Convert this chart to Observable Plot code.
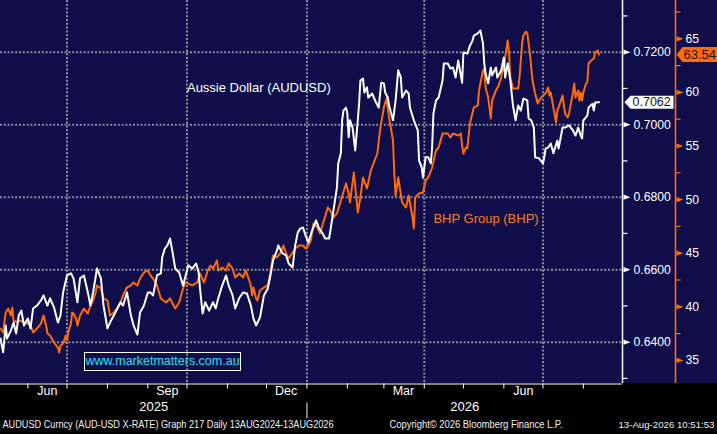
<!DOCTYPE html>
<html><head><meta charset="utf-8">
<script src="https://cdn.jsdelivr.net/npm/d3@7"></script>
<script src="https://cdn.jsdelivr.net/npm/@observablehq/plot@0.6"></script>
<style>
html,body{margin:0;padding:0;background:#000;overflow:hidden;}
#chart{position:relative;width:717px;height:434px;background:#000;overflow:hidden;font-family:"Liberation Sans",Arial,sans-serif;}
#bg{position:absolute;left:0;top:0;width:717px;height:383px;background:#0f0d4a;}
#chart svg{position:absolute;left:0;top:0;}
#wm{position:absolute;left:84px;top:352px;width:155px;height:17px;border:1px solid #fff;color:#22e2f2;font-size:12.5px;line-height:17px;text-align:center;white-space:nowrap;}
</style></head><body>
<div id="chart"><div id="bg"></div><div id="wm">www.marketmatters.com.au</div></div>
<script>
// ---------------- DATA ----------------
const audDates = ["2025-05-11","2025-05-13","2025-05-15","2025-05-16","2025-05-19","2025-05-21","2025-05-23","2025-05-25","2025-05-27","2025-05-29",
"2025-06-01","2025-06-03","2025-06-05","2025-06-08","2025-06-11","2025-06-13","2025-06-16","2025-06-18","2025-06-21","2025-06-24","2025-06-26","2025-06-28",
"2025-07-01","2025-07-04","2025-07-06","2025-07-09","2025-07-11","2025-07-14","2025-07-17","2025-07-19","2025-07-21","2025-07-24","2025-07-27","2025-07-29",
"2025-08-01","2025-08-03","2025-08-06","2025-08-11","2025-08-13","2025-08-16","2025-08-19","2025-08-21","2025-08-24","2025-08-26","2025-08-29",
"2025-09-01","2025-09-03","2025-09-05","2025-09-08","2025-09-11","2025-09-12","2025-09-14","2025-09-16","2025-09-18","2025-09-20","2025-09-22","2025-09-25","2025-09-28","2025-09-30",
"2025-10-02","2025-10-05","2025-10-08","2025-10-10","2025-10-11","2025-10-13","2025-10-15","2025-10-18","2025-10-21","2025-10-23","2025-10-25","2025-10-28","2025-10-31",
"2025-11-02","2025-11-05","2025-11-07","2025-11-10","2025-11-13","2025-11-16","2025-11-19","2025-11-21","2025-11-23","2025-11-26","2025-11-29",
"2025-12-02","2025-12-04","2025-12-06","2025-12-09","2025-12-10","2025-12-13","2025-12-16","2025-12-18","2025-12-21","2025-12-23","2025-12-25","2025-12-27","2025-12-29","2025-12-31",
"2026-01-02","2026-01-05","2026-01-08","2026-01-10","2026-01-13","2026-01-15","2026-01-18","2026-01-19","2026-01-21","2026-01-24","2026-01-25","2026-01-27","2026-01-28","2026-01-29","2026-01-31",
"2026-02-01","2026-02-02","2026-02-03","2026-02-05","2026-02-07","2026-02-09","2026-02-10","2026-02-11","2026-02-13","2026-02-14","2026-02-16","2026-02-17","2026-02-20","2026-02-23","2026-02-25","2026-02-27",
"2026-03-01","2026-03-02","2026-03-04","2026-03-05","2026-03-08","2026-03-10","2026-03-12","2026-03-14","2026-03-15","2026-03-18","2026-03-20","2026-03-21","2026-03-24","2026-03-27","2026-03-28","2026-03-30","2026-03-31",
"2026-04-02","2026-04-04","2026-04-06","2026-04-07","2026-04-08","2026-04-10","2026-04-12","2026-04-15","2026-04-16","2026-04-19","2026-04-21","2026-04-23","2026-04-25","2026-04-27","2026-04-30",
"2026-05-01","2026-05-04","2026-05-06","2026-05-08","2026-05-09","2026-05-12","2026-05-14","2026-05-16","2026-05-17","2026-05-18","2026-05-20","2026-05-22","2026-05-23","2026-05-26","2026-05-27","2026-05-30",
"2026-06-01","2026-06-02","2026-06-04","2026-06-06","2026-06-08","2026-06-10","2026-06-12","2026-06-14","2026-06-16","2026-06-19","2026-06-20","2026-06-22","2026-06-24","2026-06-25","2026-06-28",
"2026-07-01","2026-07-02","2026-07-03","2026-07-05","2026-07-07","2026-07-09","2026-07-12","2026-07-13","2026-07-16","2026-07-18","2026-07-21","2026-07-24","2026-07-26","2026-07-28","2026-07-30","2026-07-31",
"2026-08-01","2026-08-04","2026-08-05","2026-08-08","2026-08-09","2026-08-10","2026-08-13"];
const audValues = [0.6410,0.6372,0.6446,0.6410,0.6432,0.6454,0.6424,0.6474,0.6487,0.6446,
0.6465,0.6438,0.6493,0.6501,0.6515,0.6529,0.6501,0.6521,0.6496,0.6454,0.6474,0.6537,
0.6584,0.6590,0.6576,0.6510,0.6576,0.6584,0.6537,0.6501,0.6537,0.6603,0.6576,0.6501,
0.6438,0.6454,0.6474,0.6510,0.6501,0.6537,0.6474,0.6446,0.6421,0.6482,0.6501,
0.6537,0.6537,0.6529,0.6584,0.6590,0.6634,0.6658,0.6667,0.6686,0.6647,0.6603,0.6592,0.6556,0.6584,
0.6612,0.6603,0.6617,0.6592,0.6548,0.6479,0.6510,0.6487,0.6510,0.6493,0.6521,0.6556,0.6584,
0.6556,0.6529,0.6493,0.6521,0.6537,0.6534,0.6501,0.6465,0.6446,0.6468,0.6529,
0.6548,0.6584,0.6625,0.6653,0.6667,0.6646,0.6639,0.6617,0.6606,0.6667,0.6703,0.6714,0.6716,0.6694,
0.6675,0.6708,0.6736,0.6716,0.6700,0.6686,0.6686,0.6708,0.6755,0.6827,0.6893,0.6921,0.7012,0.7039,0.7047,
0.7031,0.6965,0.7012,0.6992,0.6929,0.7012,0.7058,0.7122,0.7127,0.7089,0.7103,0.7075,0.7086,0.7061,0.7047,0.7116,
0.7114,0.7089,0.7075,0.7053,0.7012,0.7067,0.7150,0.7130,0.7075,0.7094,0.7086,0.7047,0.7012,0.6984,0.6901,0.6882,0.6854,
0.6910,0.6910,0.6893,0.6937,0.7031,0.7067,0.7075,0.7122,0.7169,0.7169,0.7155,0.7158,0.7130,0.7177,0.7116,
0.7199,0.7196,0.7218,0.7232,0.7246,0.7252,0.7260,0.7224,0.7169,0.7141,0.7114,0.7158,0.7136,0.7158,0.7130,0.7150,
0.7185,0.7130,0.7169,0.7122,0.7053,0.7012,0.7053,0.7039,0.7072,0.7067,0.7017,0.7012,0.6992,0.6910,0.6907,
0.6893,0.6910,0.6934,0.6937,0.6948,0.6921,0.6956,0.6934,0.6992,0.6992,0.6998,0.6984,0.6970,0.6992,0.6970,0.6962,
0.7012,0.7025,0.7047,0.7058,0.7039,0.7061,0.7062];

const bhpDates = ["2025-05-11","2025-05-13","2025-05-15","2025-05-17","2025-05-19","2025-05-20","2025-05-21","2025-05-24","2025-05-26","2025-05-29",
"2025-06-01","2025-06-03","2025-06-05","2025-06-08","2025-06-11","2025-06-13","2025-06-15","2025-06-16","2025-06-18","2025-06-21","2025-06-24","2025-06-25","2025-06-26","2025-06-28","2025-06-30",
"2025-07-01","2025-07-02","2025-07-04","2025-07-05","2025-07-06","2025-07-08","2025-07-09","2025-07-11","2025-07-14","2025-07-17","2025-07-19","2025-07-21","2025-07-23","2025-07-24","2025-07-27","2025-07-29",
"2025-08-01","2025-08-03","2025-08-06","2025-08-09","2025-08-11","2025-08-13","2025-08-16","2025-08-19","2025-08-21","2025-08-24","2025-08-26","2025-08-29",
"2025-09-01","2025-09-03","2025-09-05","2025-09-08","2025-09-11","2025-09-15","2025-09-18","2025-09-22","2025-09-25","2025-09-28","2025-09-30",
"2025-10-02","2025-10-05","2025-10-09","2025-10-11","2025-10-14","2025-10-17","2025-10-19","2025-10-21","2025-10-24","2025-10-25","2025-10-28","2025-10-31",
"2025-11-02","2025-11-05","2025-11-07","2025-11-10","2025-11-13","2025-11-15","2025-11-17","2025-11-19","2025-11-20","2025-11-21","2025-11-23","2025-11-24","2025-11-26","2025-11-29",
"2025-12-02","2025-12-04","2025-12-06","2025-12-09","2025-12-12","2025-12-14","2025-12-16","2025-12-18","2025-12-21","2025-12-23","2025-12-26","2025-12-29","2025-12-31",
"2026-01-02","2026-01-04","2026-01-06","2026-01-09","2026-01-11","2026-01-14","2026-01-17","2026-01-19","2026-01-21","2026-01-24","2026-01-27","2026-01-31",
"2026-02-02","2026-02-03","2026-02-06","2026-02-09","2026-02-11","2026-02-13","2026-02-16","2026-02-19","2026-02-21","2026-02-24","2026-02-26",
"2026-03-01","2026-03-03","2026-03-05","2026-03-08","2026-03-09","2026-03-10","2026-03-12","2026-03-15","2026-03-18","2026-03-20","2026-03-23","2026-03-24","2026-03-25","2026-03-28","2026-03-31",
"2026-04-02","2026-04-04","2026-04-07","2026-04-10","2026-04-12","2026-04-15","2026-04-17","2026-04-19","2026-04-21","2026-04-23","2026-04-27","2026-04-29","2026-04-30",
"2026-05-01","2026-05-03","2026-05-04","2026-05-06","2026-05-09","2026-05-12","2026-05-13","2026-05-16","2026-05-17","2026-05-18","2026-05-20","2026-05-22","2026-05-23","2026-05-26","2026-05-28","2026-05-30","2026-05-31",
"2026-06-01","2026-06-02","2026-06-04","2026-06-05","2026-06-06","2026-06-08","2026-06-12","2026-06-13","2026-06-15","2026-06-16","2026-06-18","2026-06-19","2026-06-21","2026-06-23","2026-06-25","2026-06-27","2026-06-28",
"2026-07-01","2026-07-03","2026-07-05","2026-07-06","2026-07-07","2026-07-09","2026-07-11","2026-07-12","2026-07-13","2026-07-16","2026-07-18","2026-07-20","2026-07-21","2026-07-24","2026-07-25","2026-07-26","2026-07-28","2026-07-29","2026-07-30","2026-07-31",
"2026-08-01","2026-08-03","2026-08-04","2026-08-05","2026-08-07","2026-08-09","2026-08-10","2026-08-12","2026-08-13"];
const bhpValues = [37.98,37.60,39.47,39.84,39.19,39.94,38.72,38.54,38.72,38.54,
38.44,38.26,37.60,37.98,38.44,39.19,38.26,37.51,37.32,36.67,36.20,35.74,36.39,36.58,37.32,
36.86,37.60,38.44,39.47,39.37,38.91,38.26,39.19,39.84,39.37,40.12,40.59,41.33,41.99,41.71,40.77,
40.59,39.19,39.47,39.94,40.40,41.05,41.80,41.99,42.27,41.99,42.64,43.20,
43.39,42.92,42.64,41.99,40.77,40.40,40.77,39.84,40.40,41.71,42.27,
42.17,41.99,42.27,43.11,42.27,43.39,43.85,43.57,44.32,43.39,43.66,43.39,
44.04,43.57,42.73,43.11,42.73,43.39,42.73,41.99,41.05,41.80,40.77,40.59,41.52,41.80,
41.99,43.20,44.79,44.60,45.07,45.72,44.97,44.51,45.07,45.44,45.72,45.72,45.44,
45.72,46.19,47.77,47.40,46.84,48.05,49.26,48.98,48.33,48.70,49.92,51.50,
50.57,49.73,52.53,48.80,50.20,52.06,51.04,52.71,53.37,54.30,56.45,
58.59,59.43,57.66,55.51,52.43,50.38,52.06,49.73,49.26,50.38,48.33,47.30,50.20,50.57,50.66,
51.78,52.06,52.99,54.58,54.86,56.17,56.17,56.17,55.79,56.17,55.98,56.17,55.05,
54.30,54.86,54.77,57.10,58.59,58.78,60.18,62.04,62.23,60.46,59.52,57.57,59.24,60.18,60.64,61.39,62.32,
62.04,63.26,64.84,63.63,61.39,60.36,60.36,61.39,64.56,65.31,65.68,65.50,63.63,61.11,59.90,58.96,59.24,
59.71,59.90,60.46,59.71,59.99,58.59,57.19,58.31,58.59,59.71,58.03,57.66,58.03,59.99,60.83,59.52,60.18,59.24,59.99,59.24,
59.99,60.83,60.92,62.70,62.98,63.16,63.72,63.91,63.54];

const audGrid  = [0.64, 0.66, 0.68, 0.70, 0.72];
const audMinor = [0.63, 0.65, 0.67, 0.69, 0.71, 0.73];
const bhpMajor = [35, 40, 45, 50, 55, 60, 65];
const bhpMinor = [37.5, 42.5, 47.5, 52.5, 57.5, 62.5, 67.5];
const quarterGrid = ["2025-07-01","2025-10-01","2026-01-01","2026-04-01","2026-07-01"];
const monthTicks = ["2025-06-01","2025-07-01","2025-08-01","2025-09-01","2025-10-01","2025-11-01","2025-12-01",
  "2026-01-01","2026-02-01","2026-03-01","2026-04-01","2026-05-01","2026-06-01","2026-07-01","2026-08-01"];
const monthLabelDates = ["2025-06-16","2025-09-16","2025-12-16","2026-03-16","2026-06-16"];
const monthLabelText  = ["Jun","Sep","Dec","Mar","Jun"];
const yearBreaks = ["2026-01-01"];
const yearText = ["2025","2026"];
const audLabel = {date:"2025-10-01", value:0.7103, text:"Aussie Dollar (AUDUSD)"};
const bhpLabel = {date:"2026-04-08", value:48.24, text:"BHP Group (BHP)"};
const footerLeft = "AUDUSD Curncy (AUD-USD X-RATE) Graph 217 Daily 13AUG2024-13AUG2026";
const footerMid = "Copyright\u00a9 2026 Bloomberg Finance L.P.";
const footerRight = "13-Aug-2026 10:51:53";

// ---------------- SETUP ----------------
const parse = d3.utcParse("%Y-%m-%d");
const aud = audDates.map((d, i) => ({date: parse(d), value: audValues[i]}));
const bhp = bhpDates.map((d, i) => ({date: parse(d), value: bhpValues[i]}));
const audLast = audValues[audValues.length - 1];
const bhpLast = bhpValues[bhpValues.length - 1];

const W = 717, H = 434;
const FONT = '"Liberation Sans", Arial, sans-serif';
const ORANGE = "#ff6a0a", GRID = "#8e8e9a";
const xDomain = [parse("2025-05-11"), parse("2026-08-31")];
const audDomain = [0.62859, 0.734264];
const bhpDomain = [32.845, 68.573];

const base = {
  width: W, height: H, marginTop: 0, marginRight: 95, marginBottom: 51, marginLeft: 0,
  x: {type: "utc", domain: xDomain, axis: null},
  style: {background: "transparent", overflow: "visible", fontFamily: FONT, color: "white"}
};

const tri = {draw(c) { c.moveTo(0, -2.6); c.lineTo(7, 0); c.lineTo(0, 2.6); c.closePath(); }};
const hTick = {draw(c) { c.moveTo(0, 0); c.lineTo(5, 0); }};
const vTick = {draw(c) { c.moveTo(0, 0); c.lineTo(0, 5); }};
const sepTick = {draw(c) { c.moveTo(0, 0); c.lineTo(0, 16); }};
const flagW = {draw(c) { c.moveTo(0, 0); c.lineTo(6, -6.5); c.lineTo(49, -6.5); c.lineTo(49, 6.5); c.lineTo(6, 6.5); c.closePath(); }};
const flagO = {draw(c) { c.moveTo(0, 0); c.lineTo(6, -7.5); c.lineTo(45, -7.5); c.lineTo(45, 7.5); c.lineTo(6, 7.5); c.closePath(); }};

const yearMid = [
  new Date((xDomain[0].getTime() + parse(yearBreaks[0]).getTime()) / 2),
  new Date((parse(yearBreaks[0]).getTime() + xDomain[1].getTime()) / 2)
];

// ---------------- LAYER 1: grid, AUD axis, x axis, texts ----------------
const layer1 = Plot.plot({
  ...base,
  y: {domain: audDomain, axis: null},
  marks: [
    Plot.ruleY(audGrid, {stroke: GRID, strokeWidth: 2, strokeDasharray: "2,1.8"}),
    Plot.ruleX(quarterGrid.map(parse), {stroke: GRID, strokeWidth: 2, strokeDasharray: "2,1.8"}),
    Plot.ruleX([xDomain[1]], {stroke: "white", strokeWidth: 1.5}),
    Plot.ruleY([audDomain[0]], {stroke: "white", strokeWidth: 1, dy: 0.5}),
    Plot.dot(audGrid, {y: d => d, frameAnchor: "right", dx: 1, symbol: tri, fill: "white", stroke: "none"}),
    Plot.dot(audMinor, {y: d => d, frameAnchor: "right", symbol: hTick, stroke: "white", fill: "none", strokeWidth: 1.2}),
    Plot.text(audGrid, {y: d => d, frameAnchor: "right", dx: 11, textAnchor: "start", text: d => d3.format(".4f")(d), fill: "white", fontSize: 12.2}),
    Plot.dot(monthTicks.map(parse), {x: d => d, frameAnchor: "bottom", symbol: vTick, stroke: "white", fill: "none", strokeWidth: 1}),
    Plot.text(monthLabelDates, {x: d => parse(d), frameAnchor: "bottom", dy: 11.5, text: (d, i) => monthLabelText[i], fill: "white", fontSize: 12.5}),
    Plot.text(yearMid, {x: d => d, frameAnchor: "bottom", dy: 27, text: (d, i) => yearText[i], fill: "white", fontSize: 13}),
    Plot.dot(yearBreaks.map(parse), {x: d => d, frameAnchor: "bottom", dy: 19, symbol: sepTick, stroke: "#b4b4b4", fill: "none", strokeWidth: 1.3}),
    Plot.text([audLabel], {x: d => parse(d.date), y: "value", text: "text", textAnchor: "start", fill: "white", fontSize: 13}),
    Plot.text([footerLeft], {frameAnchor: "bottom-left", dx: 2, dy: 44, textAnchor: "start", text: d => d, fill: "#f0f0f0", fontSize: 10}),
    Plot.text([footerMid], {frameAnchor: "bottom-left", dx: 389, dy: 44, textAnchor: "start", text: d => d, fill: "#f0f0f0", fontSize: 10}),
    Plot.text([footerRight], {frameAnchor: "bottom-right", dx: 92, dy: 44, textAnchor: "end", text: d => d, fill: "#f0f0f0", fontSize: 9.5})
  ]
});

// ---------------- LAYER 2: BHP ----------------
const layer2 = Plot.plot({
  ...base,
  y: {domain: bhpDomain, axis: null},
  marks: [
    Plot.line(bhp, {x: "date", y: "value", stroke: ORANGE, strokeWidth: 2}),
    Plot.ruleX([xDomain[1]], {dx: 53, stroke: ORANGE, strokeWidth: 1.6}),
    Plot.dot(bhpMajor, {y: d => d, frameAnchor: "right", dx: 54, symbol: tri, fill: ORANGE, stroke: "none"}),
    Plot.dot(bhpMinor, {y: d => d, frameAnchor: "right", dx: 53, symbol: hTick, stroke: ORANGE, fill: "none", strokeWidth: 1.2}),
    Plot.text(bhpMajor, {y: d => d, frameAnchor: "right", dx: 63, textAnchor: "start", text: d => String(d), fill: "white", fontSize: 12.2}),
    Plot.text([bhpLabel], {x: d => parse(d.date), y: "value", text: "text", textAnchor: "start", fill: "#ff7d1e", fontSize: 13}),
    Plot.dot([bhpLast], {y: d => d, frameAnchor: "right", dx: 54, symbol: flagO, fill: ORANGE, stroke: "none"}),
    Plot.text([bhpLast], {y: d => d, frameAnchor: "right", dx: 61, textAnchor: "start", text: d => d3.format(".2f")(d), fill: "#1a1030", fontSize: 13})
  ]
});

// ---------------- LAYER 3: AUD line ----------------
const layer3 = Plot.plot({
  ...base,
  y: {domain: audDomain, axis: null},
  marks: [
    Plot.line(aud, {x: "date", y: "value", stroke: "white", strokeWidth: 2}),
    Plot.dot([audLast], {y: d => d, frameAnchor: "right", dx: 2, symbol: flagW, fill: "white", stroke: "none"}),
    Plot.text([audLast], {y: d => d, frameAnchor: "right", dx: 10, textAnchor: "start", text: d => d3.format(".4f")(d), fill: "#111", fontSize: 12.5})
  ]
});

const chart = document.getElementById("chart");
const wm = document.getElementById("wm");
chart.insertBefore(layer1, wm);
chart.insertBefore(layer2, wm);
chart.insertBefore(layer3, wm);

// fit footer texts to their measured widths
const fitW = new Map([[footerLeft, 331], [footerMid, 173], [footerRight, 96]]);
d3.select(layer1).selectAll("text").each(function () {
  const t = this.textContent;
  if (fitW.has(t)) {
    this.setAttribute("textLength", fitW.get(t));
    this.setAttribute("lengthAdjust", "spacingAndGlyphs");
  }
});
</script>
</body></html>
